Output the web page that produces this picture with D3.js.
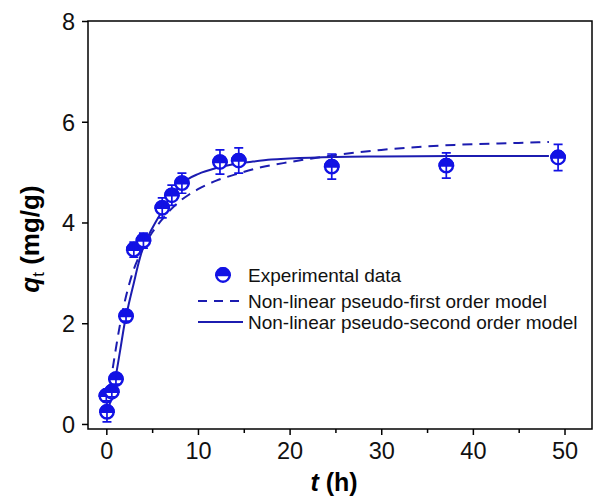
<!DOCTYPE html>
<html lang="en">
<head>
<meta charset="UTF-8">
<title>Adsorption kinetics</title>
<style>
  body { margin: 0; background: #fff; }
  svg text { font-family: "Liberation Sans", Arial, sans-serif; }
</style>
<script src="https://d3js.org/d3.v7.min.js"></script>
</head>
<body>
<script>
// experimental points (t in h, q in mg/g) with error bars
var tExp   = [0.07, 0.0, 0.6, 1.05, 2.15, 3.0, 4.05, 6.1, 7.15, 8.25, 12.4, 14.45, 24.6, 37.1, 49.3];
var qExp   = [0.24, 0.56, 0.64, 0.89, 2.14, 3.46, 3.64, 4.29, 4.54, 4.78, 5.2, 5.23, 5.11, 5.13, 5.29];
var errExp = [0.2, 0.1, 0.1, 0.1, 0.1, 0.15, 0.15, 0.2, 0.2, 0.2, 0.24, 0.25, 0.25, 0.25, 0.26];

// pseudo-first order curve
var tFirst = [0, 0.5, 1, 1.5, 2, 2.5, 3, 4, 5, 6, 7, 8, 9, 10, 12, 14, 17, 20, 25, 30, 38, 45, 48.3];
var qFirst = [0.1, 0.85, 1.45, 1.98, 2.42, 2.78, 3.07, 3.48, 3.8, 4.04, 4.25, 4.42, 4.55, 4.66, 4.83, 4.95, 5.1, 5.2, 5.34, 5.44, 5.54, 5.58, 5.6];

// pseudo-second order curve
var tSecond = [0, 0.5, 1, 1.5, 2, 2.5, 3, 3.5, 4, 5, 6, 7, 8, 9, 10, 12, 14, 16, 18, 20, 25, 30, 40, 48.3];
var qSecond = [0.1, 0.5, 0.92, 1.45, 2.0, 2.42, 2.8, 3.18, 3.5, 3.88, 4.2, 4.5, 4.72, 4.87, 4.96, 5.08, 5.16, 5.21, 5.25, 5.27, 5.3, 5.31, 5.32, 5.32];

var xTicks = [0, 10, 20, 30, 40, 50];
var xMinor = [5, 15, 25, 35, 45];
var yTicks = [0, 2, 4, 6, 8];

var legendLabels = ["Experimental data", "Non-linear pseudo-first order model", "Non-linear pseudo-second order model"];

var width = 595, height = 498;
var pLeft = 88, pRight = 592, pTop = 21, pBottom = 429;
var markColor = "#1212e4", lineColor = "#1c1cb0";

var svg = d3.select("body").append("svg")
            .attr("width", width)
            .attr("height", height);

var x = d3.scaleLinear().domain([-2, 53]).range([pLeft, pRight]);
var y = d3.scaleLinear().domain([-0.1, 8]).range([pBottom, pTop]);

// frame
svg.append("rect")
   .attr("x", pLeft).attr("y", pTop)
   .attr("width", pRight - pLeft).attr("height", pBottom - pTop)
   .attr("fill", "none").attr("stroke", "#000").attr("stroke-width", 1.5);

// axes
var xAxis = svg.append("g")
   .attr("transform", "translate(0," + pBottom + ")")
   .call(d3.axisBottom(x).tickValues(xTicks).tickSize(6).tickPadding(5).tickFormat(d3.format("d")));
svg.append("g")
   .attr("transform", "translate(0," + pBottom + ")")
   .call(d3.axisBottom(x).tickValues(xMinor).tickSize(4).tickFormat(""));
var yAxis = svg.append("g")
   .attr("transform", "translate(" + pLeft + ",0)")
   .call(d3.axisLeft(y).tickValues(yTicks).tickSize(6).tickPadding(7).tickFormat(d3.format("d")));

svg.selectAll(".domain").remove();
svg.selectAll(".tick line").attr("stroke", "#000").attr("stroke-width", 1.5);
svg.selectAll(".tick text").attr("font-size", 23.5).attr("fill", "#111");
xAxis.selectAll(".tick text").attr("dy", "0.82em");
yAxis.selectAll(".tick text").attr("dy", "0.36em");

// axis titles
var xt = svg.append("text")
   .attr("x", 334).attr("y", 491)
   .attr("text-anchor", "middle")
   .attr("font-size", 25).attr("font-weight", "bold");
xt.append("tspan").attr("font-style", "italic").text("t");
xt.append("tspan").text(" (h)");

var yt = svg.append("text")
   .attr("transform", "translate(39,239) rotate(-90)")
   .attr("text-anchor", "middle")
   .attr("font-size", 26).attr("font-weight", "bold");
yt.append("tspan").attr("font-style", "italic").text("q");
yt.append("tspan").attr("font-size", 17).attr("font-weight", "normal").attr("dy", 5).text("t");
yt.append("tspan").attr("dy", -5).text(" (mg/g)");

// curves
var line = d3.line()
   .x(function(d){ return x(d[0]); })
   .y(function(d){ return y(d[1]); })
   .curve(d3.curveMonotoneX);

svg.append("path")
   .datum(d3.zip(tFirst, qFirst))
   .attr("d", line)
   .attr("fill", "none").attr("stroke", lineColor)
   .attr("stroke-width", 2).attr("stroke-dasharray", "10,7");

svg.append("path")
   .datum(d3.zip(tSecond, qSecond))
   .attr("d", line)
   .attr("fill", "none").attr("stroke", lineColor)
   .attr("stroke-width", 2);

// half-filled circle marker
var r = 6.7;
var topHalf = "M" + (-r) + ",0A" + r + "," + r + " 0 0,1 " + r + ",0Z";
function marker(g) {
  g.append("circle").attr("r", r).attr("fill", "#fff")
   .attr("stroke", markColor).attr("stroke-width", 2.4);
  g.append("path").attr("d", topHalf).attr("fill", markColor)
   .attr("stroke", markColor).attr("stroke-width", 2.4);
}

var pts = svg.selectAll("g.pt")
   .data(d3.range(tExp.length))
   .enter().append("g")
   .attr("class", "pt")
   .attr("transform", function(i){ return "translate(" + x(tExp[i]) + "," + y(qExp[i]) + ")"; });
pts.each(function(){ marker(d3.select(this)); });

// error bars
var cap = 4.5;
pts.append("path")
   .attr("d", function(i){
      var yt = y(qExp[i] + errExp[i]) - y(qExp[i]);
      var yb = y(qExp[i] - errExp[i]) - y(qExp[i]);
      return "M0," + yt + "V" + yb +
             "M" + (-cap) + "," + yt + "H" + cap +
             "M" + (-cap) + "," + yb + "H" + cap;
   })
   .attr("fill", "none").attr("stroke", markColor).attr("stroke-width", 1.7);

// legend
var lg = svg.append("g");
var lgX = 248, lgY = [275, 301, 322];
marker(lg.append("g").attr("transform", "translate(223," + lgY[0] + ")"));
lg.append("line").attr("x1", 198).attr("x2", 243).attr("y1", lgY[1]).attr("y2", lgY[1])
  .attr("stroke", lineColor).attr("stroke-width", 2).attr("stroke-dasharray", "9,7");
lg.append("line").attr("x1", 198).attr("x2", 243).attr("y1", lgY[2]).attr("y2", lgY[2])
  .attr("stroke", lineColor).attr("stroke-width", 2);
lg.selectAll("text.lab")
  .data(legendLabels)
  .enter().append("text")
  .attr("class", "lab")
  .attr("x", lgX)
  .attr("y", function(d, i){ return lgY[i] + 6.5; })
  .attr("font-size", 19)
  .attr("fill", "#111")
  .text(function(d){ return d; });
</script>
</body>
</html>
